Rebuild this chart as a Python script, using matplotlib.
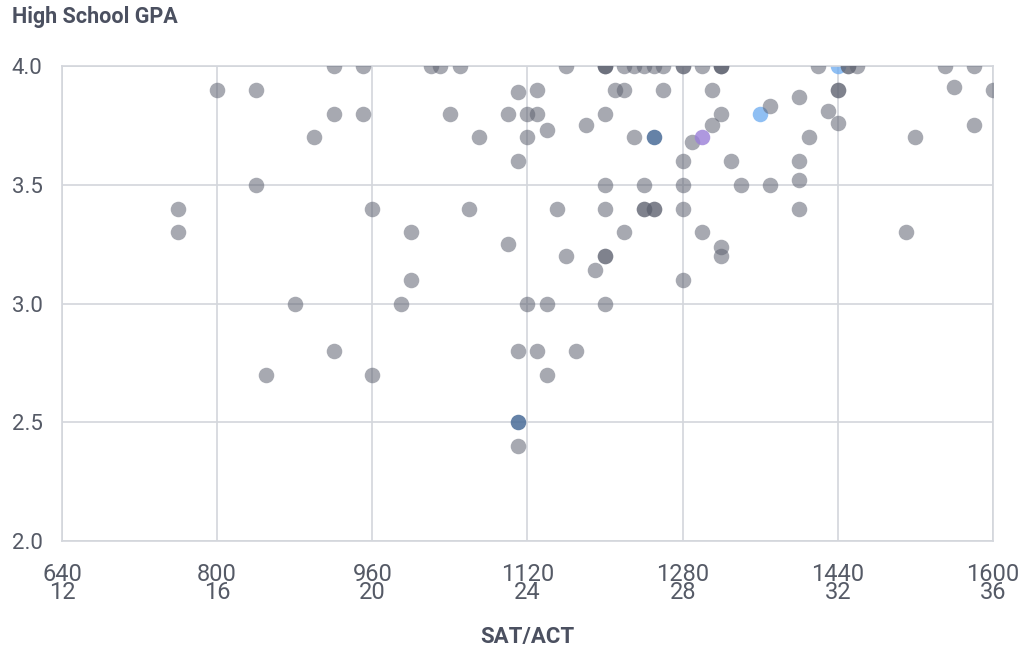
import matplotlib.pyplot as plt

# punti grigi (SAT, GPA) - i duplicati rendono i punti sovrapposti piu scuri
sat_gray = [920, 950, 1020, 1030, 1050, 1160, 1200, 1200, 1200, 1220, 1230, 1240, 1250, 1260,
            1280, 1280, 1300, 1320, 1320, 1320, 1420, 1450, 1450, 1460, 1550, 1580,
            800, 840, 1110, 1130, 1210, 1220, 1260, 1310, 1440, 1440, 1560, 1600,
            920, 950, 1040, 1100, 1120, 1130, 1200, 1320, 1430, 1370, 1400, 1440,
            900, 1070, 1120, 1140, 1180, 1230, 1290, 1310, 1410, 1520, 1580,
            1110, 1280, 1330, 1400,
            840, 1200, 1240, 1280, 1340, 1370, 1400,
            760, 960, 1060, 1150, 1200, 1240, 1240, 1250, 1250, 1280, 1400,
            760, 1000, 1220, 1300, 1510,
            1100, 1320,
            1160, 1200, 1200, 1320,
            1190, 1000, 1280,
            880, 990, 1120, 1140, 1200,
            920, 1110, 1130, 1170,
            850, 960, 1140,
            1110]
gpa_gray = [4.0, 4.0, 4.0, 4.0, 4.0, 4.0, 4.0, 4.0, 4.0, 4.0, 4.0, 4.0, 4.0, 4.0,
            4.0, 4.0, 4.0, 4.0, 4.0, 4.0, 4.0, 4.0, 4.0, 4.0, 4.0, 4.0,
            3.9, 3.9, 3.89, 3.9, 3.9, 3.9, 3.9, 3.9, 3.9, 3.9, 3.91, 3.9,
            3.8, 3.8, 3.8, 3.8, 3.8, 3.8, 3.8, 3.8, 3.81, 3.83, 3.87, 3.76,
            3.7, 3.7, 3.7, 3.73, 3.75, 3.7, 3.68, 3.75, 3.7, 3.7, 3.75,
            3.6, 3.6, 3.6, 3.6,
            3.5, 3.5, 3.5, 3.5, 3.5, 3.5, 3.52,
            3.4, 3.4, 3.4, 3.4, 3.4, 3.4, 3.4, 3.4, 3.4, 3.4, 3.4,
            3.3, 3.3, 3.3, 3.3, 3.3,
            3.25, 3.24,
            3.2, 3.2, 3.2, 3.2,
            3.14, 3.1, 3.1,
            3.0, 3.0, 3.0, 3.0, 3.0,
            2.8, 2.8, 2.8, 2.8,
            2.7, 2.7, 2.7,
            2.4]

# punti colorati
sat_blue = [1440, 1360]
gpa_blue = [4.0, 3.8]
sat_darkblue = [1250, 1110]
gpa_darkblue = [3.7, 2.5]
sat_purple = [1300]
gpa_purple = [3.7]

sat_ticks = [640, 800, 960, 1120, 1280, 1440, 1600]
act_ticks = [12, 16, 20, 24, 28, 32, 36]
gpa_ticks = [2.0, 2.5, 3.0, 3.5, 4.0]

plt.rcParams['font.family'] = ['Roboto', 'DejaVu Sans']

grid_col = '#d3d6dc'
text_col = '#4b5060'
tick_col = '#555a66'

fig = plt.figure(figsize=(10.24, 6.61), dpi=100)
ax = fig.add_axes([62 / 1024, 1 - 541 / 661, 931 / 1024, 475 / 661])

size = 125
ax.scatter(sat_gray, gpa_gray, s=size, color='#5f6371', alpha=0.55, linewidths=0, zorder=3)
ax.scatter(sat_blue, gpa_blue, s=size, color='#6aaaf0', alpha=0.75, linewidths=0, zorder=2)
ax.scatter(sat_darkblue, gpa_darkblue, s=size, color='#4a6c98', alpha=0.85, linewidths=0, zorder=4)
ax.scatter(sat_purple, gpa_purple, s=size, color='#9a7fd8', alpha=0.8, linewidths=0, zorder=4)

ax.set_xlim(640, 1600)
ax.set_ylim(2.0, 4.0)
ax.set_xticks(sat_ticks)
ax.set_xticklabels(['{}\n{}'.format(s, a) for s, a in zip(sat_ticks, act_ticks)],
                   fontsize=17, color=tick_col, linespacing=0.72)
ax.set_yticks(gpa_ticks)
ax.set_yticklabels(['{:.1f}'.format(g) for g in gpa_ticks], fontsize=16, color=tick_col)
ax.tick_params(axis='both', length=0)
ax.tick_params(axis='x', pad=16)
ax.tick_params(axis='y', pad=14)

ax.grid(True, color=grid_col, linewidth=1.2)
ax.set_axisbelow(True)
for sp in ax.spines.values():
    sp.set_color(grid_col)
    sp.set_linewidth(1.2)

fig.text(12 / 1024, 1 - 17 / 661, 'High School GPA', fontsize=15.5, fontweight='bold',
         color=text_col, ha='left', va='center')
fig.text(527 / 1024, 1 - 643 / 661, 'SAT/ACT', fontsize=16, fontweight='bold',
         color=text_col, ha='center', va='baseline')

fig.savefig('out.png', dpi=100)
